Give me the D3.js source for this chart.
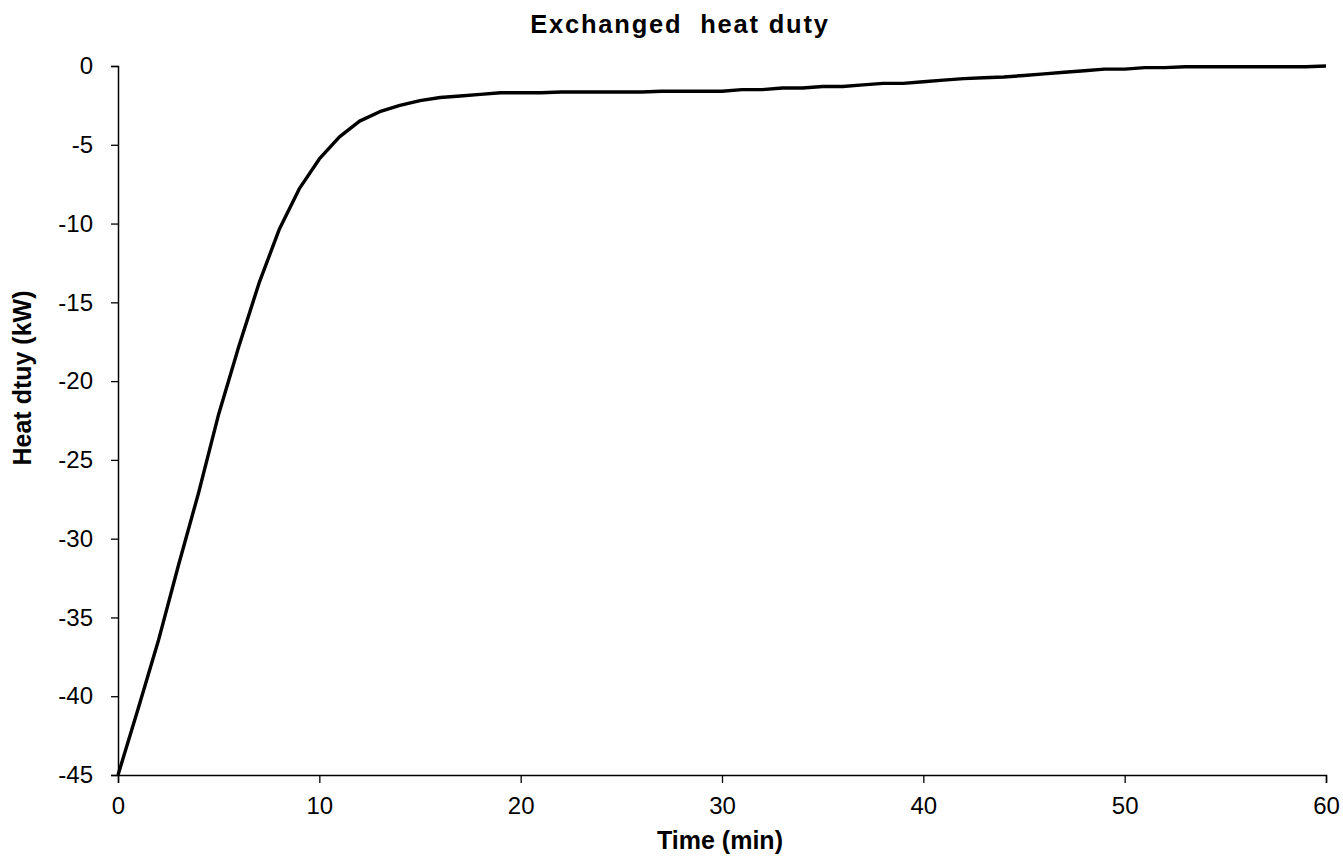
<!DOCTYPE html>
<html><head><meta charset="utf-8">
<script src="https://cdn.jsdelivr.net/npm/d3@7"></script>
<style>body{margin:0;background:#fff}svg{display:block}text{font-family:"Liberation Sans",Arial,sans-serif}</style>
</head><body>
<svg id="c" width="1343" height="856"></svg>
<script>
const title = "Exchanged  heat duty";
const xLabel = "Time (min)";
const yLabel = "Heat dtuy (kW)";
const time = [0,1,2,3,4,5,6,7,8,9,10,11,12,13,14,15,16,17,18,19,20,21,22,23,24,25,26,27,28,29,30,31,32,33,34,35,36,37,38,39,40,41,42,43,44,45,46,47,48,49,50,51,52,53,54,55,56,57,58,59,60];
const duty = [-45,-40.8,-36.5,-31.7,-27.1,-22.1,-17.8,-13.8,-10.4,-7.8,-5.9,-4.5,-3.5,-2.9,-2.5,-2.2,-2.0,-1.9,-1.8,-1.7,-1.7,-1.7,-1.65,-1.65,-1.65,-1.65,-1.65,-1.6,-1.6,-1.6,-1.6,-1.5,-1.5,-1.4,-1.4,-1.3,-1.3,-1.2,-1.1,-1.1,-1.0,-0.9,-0.8,-0.75,-0.7,-0.6,-0.5,-0.4,-0.3,-0.2,-0.2,-0.1,-0.1,-0.05,-0.05,-0.05,-0.05,-0.05,-0.05,-0.05,0];
const xTicks = [0,10,20,30,40,50,60];
const yTicks = [0,-5,-10,-15,-20,-25,-30,-35,-40,-45];

const svg = d3.select("#c");
const L=118,R=1326,T=66,B=775;
const x = d3.scaleLinear().domain([0,60]).range([L,R]);
const y = d3.scaleLinear().domain([-45,0]).range([B,T]);

const gx = svg.append("g").attr("transform",`translate(0,${B})`);
gx.call(d3.axisBottom(x).tickValues(d3.range(0,61,2)).tickSize(6).tickFormat(""));
gx.call(d3.axisBottom(x).tickValues(xTicks).tickSize(8).tickPadding(14).tickFormat(d3.format("d")));
gx.selectAll(".domain").attr("stroke","#000").attr("stroke-width",1.5);
gx.selectAll("line").attr("stroke","#000").attr("stroke-width",1.3);
gx.selectAll("text").attr("font-size",24).attr("fill","#000").attr("font-family","Liberation Sans, Arial, sans-serif");

const gy = svg.append("g").attr("transform",`translate(${L},0)`);
gy.call(d3.axisLeft(y).tickValues(d3.range(-45,1,1)).tickSize(7).tickFormat(""));
gy.call(d3.axisLeft(y).tickValues(yTicks).tickSize(7).tickPadding(18).tickFormat(d3.format("d")));
gy.selectAll(".domain").attr("stroke","#000").attr("stroke-width",1.5);
gy.selectAll("line").attr("stroke","#000").attr("stroke-width",1.3);
gy.selectAll("text").attr("font-size",24).attr("fill","#000").attr("font-family","Liberation Sans, Arial, sans-serif").text(d=>String(d));

const line = d3.line().x((d,i)=>x(time[i])).y(d=>y(d));
svg.append("path").datum(duty).attr("d",line).attr("fill","none").attr("stroke","#000").attr("stroke-width",3.4).attr("stroke-linejoin","round");

svg.append("text").attr("x",680).attr("y",33).attr("text-anchor","middle").attr("font-size",25.5).attr("font-weight","bold").attr("letter-spacing",1.8).attr("xml:space","preserve").text(title);
svg.append("text").attr("x",720).attr("y",849).attr("text-anchor","middle").attr("font-size",25).attr("font-weight","bold").text(xLabel);
svg.append("text").attr("transform","translate(31,378) rotate(-90)").attr("text-anchor","middle").attr("font-size",25).attr("font-weight","bold").text(yLabel);
</script>
</body></html>
